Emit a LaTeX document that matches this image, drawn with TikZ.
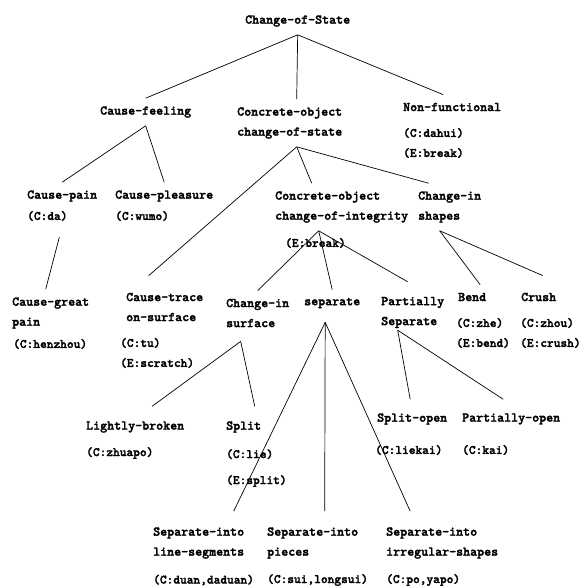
\documentclass[tikz,border=0pt]{standalone}
\usepackage{fontspec}
\newfontfamily\treefont{lmmonolt10-bold.otf}[FakeBold=2]

\begin{document}
\begin{tikzpicture}[x=1pt,y=-1pt, every node/.style={font=\treefont\fontsize{13.33}{20}\selectfont,anchor=west,align=left,inner xsep=0pt,inner ysep=8pt}, cod/.style={font=\treefont\fontsize{12.8}{20}\selectfont}, br/.style={line width=0.7pt}]
\useasboundingbox (0,0) rectangle (582,587);
% level 0 and 1
\node (root) at (245,21) {Change-of-State};
\node (cfeel) at (100,112) {Cause-feeling};
\node (cstate) at (237,123) {Concrete-object\\change-of-state};
\node (nonf) at (403,107) {Non-functional};
\node[cod] (nonfc) at (403,143) {(C:dahui)\\(E:break)};
% level 2
\node (cpain) at (27,196) {Cause-pain}; \node[cod] (cpainc) at (27,216) {(C:da)};
\node (cpleas) at (115,196) {Cause-pleasure}; \node[cod] (cpleasc) at (115,216) {(C:wumo)};
\node (integ) at (275,207) {Concrete-object\\change-of-integrity};
\node[cod] (integc) at (285,243) {(E:break)};
\node (cshape) at (418,207) {Change-in\\shapes};
% level 3
\node (cgreat) at (12,313) {Cause-great\\pain}; \node[cod] (cgreatc) at (13,344) {(C:henzhou)};
\node (ctrace) at (126,307) {Cause-trace\\on-surface}; \node[cod] (ctracec) at (120,353) {(C:tu)\\(E:scratch)};
\node (csurf) at (226,313) {Change-in\\surface};
\node (sep) at (304,303) {separate};
\node (psep) at (381,312.5) {Partially\\Separate};
\node (bend) at (458,297) {Bend}; \node[cod] (bendc) at (456,333) {(C:zhe)\\(E:bend)};
\node (crush) at (521,297) {Crush}; \node[cod] (crushc) at (520,333) {(C:zhou)\\(E:crush)};
% level 4
\node (lbroken) at (86,427) {Lightly-broken}; \node[cod] (lbrokenc) at (86,453) {(C:zhuapo)};
\node (split) at (226,427) {Split}; \node[cod] (splitc) at (226,468) {(C:lie)\\[6pt](E:split)};
\node (sopen) at (377,419) {Split-open}; \node[cod] (sopenc) at (375,450) {(C:liekai)};
\node (popen) at (462,419) {Partially-open}; \node[cod] (popenc) at (462,450) {(C:kai)};
% level 5
\node (sline) at (153,543) {Separate-into\\line-segments}; \node[cod] (slinec) at (153,580) {(C:duan,daduan)};
\node (spiece) at (267,543) {Separate-into\\pieces}; \node[cod] (spiecec) at (267,580) {(C:sui,longsui)};
\node (sirreg) at (386,543) {Separate-into\\irregular-shapes}; \node[cod] (sirregc) at (386,580) {(C:po,yapo)};
% branches
\draw[br] (root.south) -- (cfeel.north); \draw[br] (root.south) -- ([xshift=7pt]cstate.north); \draw[br] (root.south) -- ([xshift=-9pt]nonf.north);
\draw[br] (cfeel.south) -- (cpain.north); \draw[br] (cfeel.south) -- (cpleas.north);
\draw[br] ([shift={(12pt,-8pt)}]cpainc.south) -- ([xshift=-5pt]cgreat.north);
\draw[br] ([xshift=7pt]cstate.south) -- ([shift={(-16pt,9pt)}]ctrace.north); \draw[br] ([xshift=7pt]cstate.south) -- ([xshift=-30pt]integ.north); \draw[br] ([xshift=7pt]cstate.south) -- ([xshift=-21pt]cshape.north);
\draw[br] ([xshift=-23pt]integ.south) -- (csurf.north); \draw[br] ([xshift=-23pt]integ.south) -- (sep.north); \draw[br] ([xshift=-23pt]integ.south) -- ([shift={(-5pt,7pt)}]psep.north);
\draw[br] ([xshift=-10pt]cshape.south) -- ([xshift=8pt]bend.north); \draw[br] ([xshift=-10pt]cshape.south) -- ([shift={(4pt,9pt)}]crush.north);
\draw[br] ([shift={(-17pt,-6pt)}]csurf.south) -- ([shift={(17pt,7pt)}]lbroken.north); \draw[br] ([shift={(-17pt,-6pt)}]csurf.south) -- ([shift={(11pt,7pt)}]split.north);
\draw[br] ([shift={(-7pt,-6pt)}]sep.south) -- ([shift={(35pt,8pt)}]sline.north); \draw[br] ([shift={(-7pt,-6pt)}]sep.south) -- ([shift={(12pt,8pt)}]spiece.north); \draw[br] ([shift={(-7pt,-6pt)}]sep.south) -- ([shift={(-32pt,8pt)}]sirreg.north);
\draw[br] ([shift={(-15pt,6pt)}]psep.south) -- ([shift={(-2pt,6pt)}]sopen.north); \draw[br] ([shift={(-15pt,6pt)}]psep.south) -- ([shift={(-8pt,6pt)}]popen.north);
\end{tikzpicture}
\end{document}
